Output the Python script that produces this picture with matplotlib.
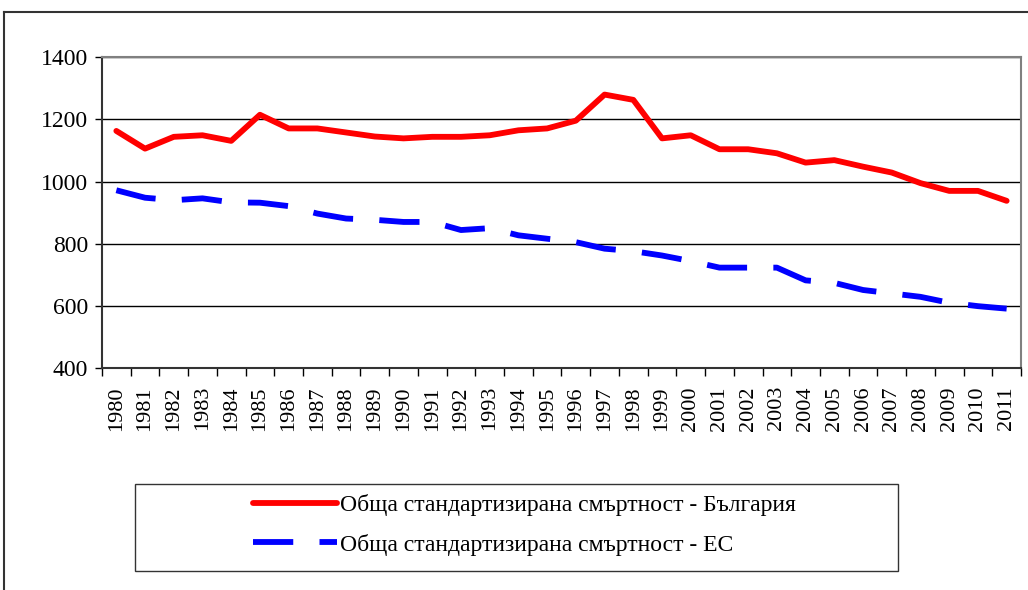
import matplotlib.pyplot as plt
from matplotlib.lines import Line2D
from matplotlib.patches import Rectangle
import numpy as np

years = [str(y) for y in range(1980, 2012)]
bulgaria = [1163, 1106, 1144, 1149, 1131, 1215, 1171, 1171, 1158, 1145,
            1139, 1144, 1144, 1149, 1165, 1171, 1196, 1280, 1263, 1139,
            1149, 1104, 1104, 1091, 1061, 1069, 1048, 1029, 995, 970,
            970, 938]
eu = [972, 948, 940, 946, 933, 932, 921, 897, 881, 877,
      870, 870, 844, 850, 827, 816, 805, 784, 776, 762,
      744, 723, 723, 723, 682, 674, 651, 640, 629, 610,
      599, 591]
label_bg = 'Обща стандартизирана смъртност - България'
label_eu = 'Обща стандартизирана смъртност - ЕС'

plt.rcParams['font.family'] = ['Liberation Serif', 'DejaVu Serif']

fig = plt.figure(figsize=(10.28, 5.9), dpi=100)
ax = fig.add_axes([0.0992, 0.3763, 0.8940, 0.5266])

x = np.arange(len(years))
ax.plot(x, bulgaria, color='#ff0000', lw=4.2, solid_capstyle='round', label=label_bg)
eu_line, = ax.plot(x, eu, color='#0000ff', lw=4.2, dash_capstyle='butt', label=label_eu)
eu_line.set_dashes([6.9, 4.5])

ax.set_xlim(-0.5, len(years) - 0.5)
ax.set_ylim(400, 1400)
ax.set_yticks(range(400, 1401, 200))
ax.tick_params(axis='y', labelsize=17, length=5, width=1, direction='out', pad=5)
ax.set_xticks(x)
ax.set_xticklabels(years, rotation=90, fontsize=16)
ax.tick_params(axis='x', which='major', length=0, pad=13)
ax.set_xticks(np.arange(-0.5, len(years)), minor=True)
ax.tick_params(axis='x', which='minor', length=6, width=1, direction='out')

ax.yaxis.grid(True, color='#000000', lw=1)
ax.set_axisbelow(True)
for s in ['top', 'right']:
    ax.spines[s].set_color('#808080')
    ax.spines[s].set_linewidth(1.5)
for s in ['left', 'bottom']:
    ax.spines[s].set_color('#333333')
    ax.spines[s].set_linewidth(1.5)

# outer chart frame (top and left edges visible)
fig.add_artist(Line2D([4 / 1028, 1], [1 - 12 / 590, 1 - 12 / 590],
                      transform=fig.transFigure, color='#333333', lw=1.5))
fig.add_artist(Line2D([4 / 1028, 4 / 1028], [0, 1 - 12 / 590],
                      transform=fig.transFigure, color='#333333', lw=1.5))

# legend box
fig.add_artist(Rectangle((135 / 1028, 1 - 571 / 590), 763 / 1028, 87 / 590,
                         transform=fig.transFigure, fill=False,
                         edgecolor='#333333', lw=1))
fig.legend(loc='center left', bbox_to_anchor=(253 / 1028, 1 - 525 / 590),
           frameon=False, fontsize=17, handlelength=3.55, handletextpad=0.15,
           labelspacing=0.72, borderpad=0, borderaxespad=0)

fig.savefig('out.png', dpi=100)
